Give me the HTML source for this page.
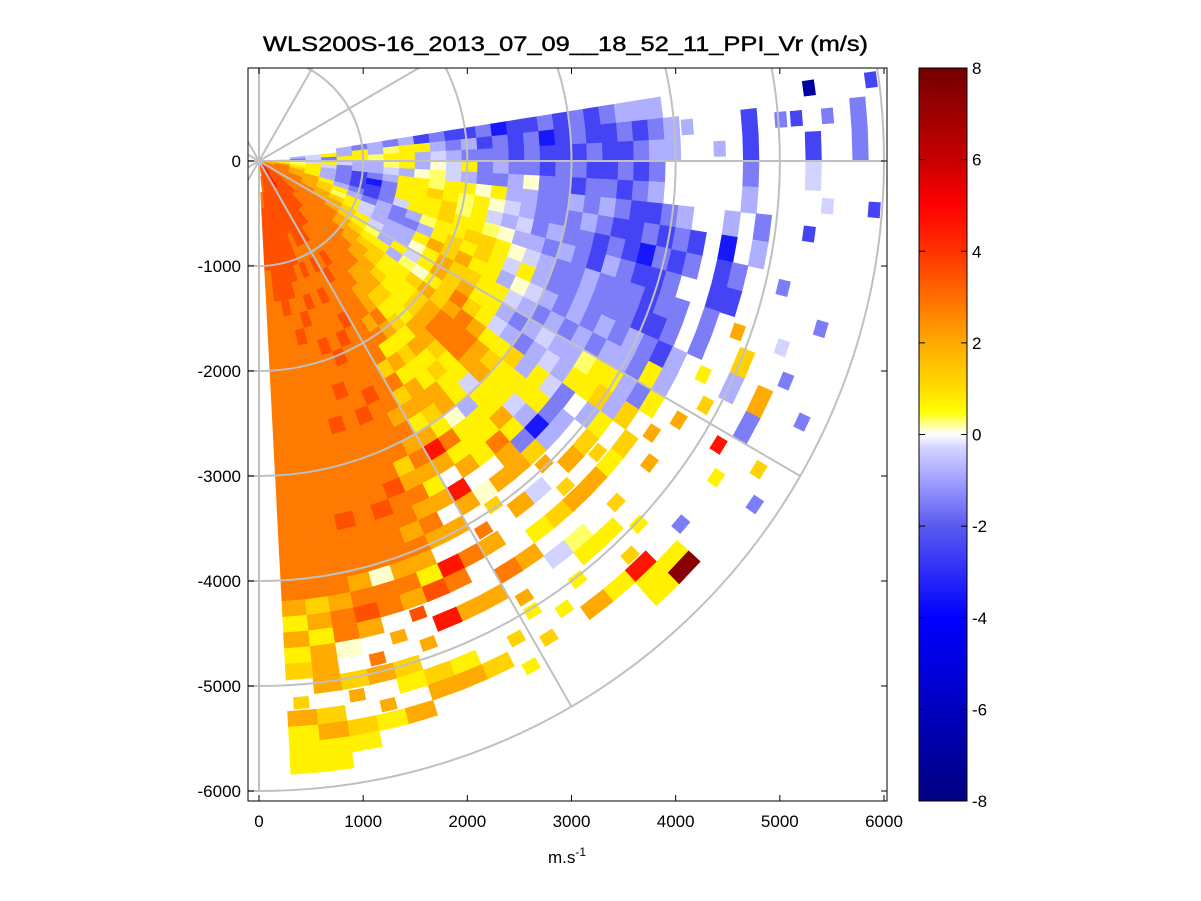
<!DOCTYPE html>
<html><head><meta charset="utf-8">
<style>
html,body{margin:0;padding:0;background:#fff;overflow:hidden;width:1201px;height:901px;}
svg{display:block;font-family:"Liberation Sans",Arial,sans-serif;}
</style></head>
<body>
<svg id="chart" width="1201" height="901" viewBox="0 0 1201 901">
<defs>
<clipPath id="plotclip"><rect x="248" y="68" width="639" height="733"/></clipPath>
<linearGradient id="cbgrad" x1="0" y1="1" x2="0" y2="0">
<stop offset="0" stop-color="rgb(0,0,128)"/>
<stop offset="0.25" stop-color="rgb(0,0,255)"/>
<stop offset="0.375" stop-color="rgb(90,90,240)"/>
<stop offset="0.4375" stop-color="rgb(160,160,255)"/>
<stop offset="0.484" stop-color="rgb(215,215,255)"/>
<stop offset="0.5" stop-color="rgb(255,255,255)"/>
<stop offset="0.516" stop-color="rgb(255,255,130)"/>
<stop offset="0.531" stop-color="rgb(255,255,0)"/>
<stop offset="0.5625" stop-color="rgb(255,220,0)"/>
<stop offset="0.625" stop-color="rgb(255,170,0)"/>
<stop offset="0.75" stop-color="rgb(255,50,0)"/>
<stop offset="0.8125" stop-color="rgb(255,0,0)"/>
<stop offset="0.875" stop-color="rgb(200,0,0)"/>
<stop offset="1" stop-color="rgb(115,0,0)"/>
</linearGradient>
</defs>
<rect x="248" y="68" width="639" height="733" fill="#fff"/>
<g id="cells" clip-path="url(#plotclip)"></g>
<g id="grid" clip-path="url(#plotclip)" stroke="#c0c0c0" stroke-width="2" fill="none"></g>
<rect x="248" y="68" width="639" height="733" fill="none" stroke="#000" stroke-width="1"/>
<g id="axes"></g>
<text x="263" y="51" textLength="605" lengthAdjust="spacingAndGlyphs" font-size="21" stroke="#000" stroke-width="0.4">WLS200S-16_2013_07_09__18_52_11_PPI_Vr (m/s)</text>
<text x="567" y="863" text-anchor="middle" font-size="17">m.s<tspan dy="-7" font-size="12">-1</tspan></text>
<rect x="919" y="68" width="48" height="733" fill="url(#cbgrad)" stroke="#000" stroke-width="1"/>
<g id="cbaxis"></g>
</svg>
<script>
const xTicks=[0,1000,2000,3000,4000,5000,6000];
const yTicks=[0,-1000,-2000,-3000,-4000,-5000,-6000];
const cbTicks=[-8,-6,-4,-2,0,2,4,6,8];
const rings=[1000,2000,3000,4000,5000,6000];
const spokeAngles=[0,30,60,90,120,150,180,210,240,270,300,330];
const spokeLen=6000;
const beamStart=9;      // degrees, top edge of first beam
const beamWidth=3;      // degrees
const gateLen=150;      // metres
const codeKeys=['w','e','l','m','b','B','N','p','y','g','o','O','r','R','D'];
const codeVals=[0.1,-0.3,-0.8,-1.5,-2.5,-3.5,-7,0.3,0.7,1.2,2,2.8,3.5,4.6,7.5];
const beams=[
".....lmlmlbmbbmBbbmbmbmlll.........N...b",
"..leylylpyylmlbmbmBbmbbmbmll...b.mb.m.m.",
".ememyypyylelmmmbmbbbmbbmll..l.b...b..m.",
".ypeyellpylweymlmmbmmbbmbm.....m...e....",
"yypyemllelwpelmmlwmmbmmbml.....l....e..b",
"ooyylmbmlyypyywyllmmlmlmbbml..l.m..b....",
"oOgylmbBmyygypywelmmmlmbbmbmb.B.l.......",
"oOoylmbbmyyygpyelemlmmbmbBmbm.bm..m.....",
"OOooylmbmeyygyypwllmlmblmbbm..bb.....m..",
"OOoogylmlmlpyyggywelmmlmmmbmm.m.o..e....",
"OOOogpyelmmlygygyeylmmlmmmbbm.m..g..m...",
"OOOoogyelllyogoyylwelmlmlmlmbl.y.l.o..m.",
"OOOOoogyellwyoggyyelmlmlmllmyl..g..m....",
"OOOOOogyplyeyogoyylmlellpyylmy.o..R..g..",
"rOOOOOogyylpwygOgyelmlelyyglg.o....y..m.",
"rrOOOOooggyygogoOoyyglyem.ly.g.o........",
"rrrOOOOoogyyygoOOOogyyyyml.ggy.....m....",
"rrrOOOOOoogyygoOOOooyyelBl.o.o.g.y..yD..",
"rrrrOOOOOoogyyoogyyeyyoymgo.go..y.gRyy..",
"RrrrOOOOOoogygyoygyylyyOoo.e.g.py..y....",
"RrrrrOOOOOooOoygyyoowyyy.o.o.y.e.y.o....",
"RRrrrOOrOOOOoOyoyoogyOyo.wg...o...y.....",
"RrrrrrOOrOOOOOOgOgoyoRo.Ro.Oo.O.oy.g....",
"rRrrrrOrOOOrOOOOOOoOoOoyo.o.O..o..g.y...",
"rrrrrrOOOrOOrOOOrOOOOgoOoOo.RO.o...g....",
"rrrrrOOrOOOOOrOOOrOOOOrOOoOoyr.R..yo....",
"rrrrrrrOOrOOrOOrOOOOOOOrOOOoOor.o.go....",
"rrrrrrrrOOrOOOOOOrOOOOOOOOOwOO.o.gy.o...",
"rrrrrrrrrOOrOOOOOOOOOOOrOOOoOro.Oo.oy...",
"OrrrrrrrrrOOOOOOOOOOOOOOOOOOoOOw.go.gy..",
".OrrrrrrrOOOOOOOOOOOOOOOOOOOgoyooo.goyy.",
"..OrrrrOOOOOOOOOOOOOOOOOOOOOoyoyg.goyyy."
];
const NS='http://www.w3.org/2000/svg';
const X0=259,Y0=161,SX=625/6000,SY=630/6000;
function px(x){return X0+x*SX;}
function py(y){return Y0-y*SY;}
const cmapV=[-8,-4,-2,-1,-0.25,0,0.25,0.5,1,2,4,5,6,8];
const cmapC=[[0,0,128],[0,0,255],[90,90,240],[160,160,255],[215,215,255],[255,255,255],[255,255,130],[255,255,0],[255,220,0],[255,170,0],[255,50,0],[255,0,0],[200,0,0],[115,0,0]];
function color(v){
  if(v<=cmapV[0])return 'rgb(0,0,128)';
  for(let i=1;i<cmapV.length;i++){
    if(v<=cmapV[i]){const t=(v-cmapV[i-1])/(cmapV[i]-cmapV[i-1]);
      const a=cmapC[i-1],b=cmapC[i];
      return 'rgb('+a.map((c,k)=>Math.round(c+(b[k]-c)*t)).join(',')+')';}
  }
  return 'rgb(115,0,0)';
}
function pt(r,deg){const a=deg*Math.PI/180;return [px(r*Math.cos(a)),py(r*Math.sin(a))];}
function has(bi,gi){return bi>=0&&bi<beams.length&&codeKeys.indexOf(beams[bi][gi])>=0;}
const cells=document.getElementById('cells');
beams.forEach((row,bi)=>{
  const mid=beamStart-bi*beamWidth-beamWidth/2;
  for(let gi=0;gi<row.length;gi++){
    const k=codeKeys.indexOf(row[gi]);
    if(k<0)continue;
    const v=codeVals[k];
    let r1=gi*gateLen,r2=(gi+1)*gateLen;
    let half=beamWidth/2;
    const isolated=!has(bi-1,gi)&&!has(bi+1,gi);
    if(isolated){
      const rpx=(r1+r2)/2*SX;
      half=Math.min(half,7.5/rpx*180/Math.PI);
      const rc=(r1+r2)/2; r1=rc-55; r2=rc+55;
    }
    const a1=mid+half,a2=mid-half;
    const p=[pt(r1,a1),pt(r2,a1),pt(r2,a2),pt(r1,a2)];
    const el=document.createElementNS(NS,'polygon');
    el.setAttribute('points',p.map(q=>q[0].toFixed(1)+','+q[1].toFixed(1)).join(' '));
    el.setAttribute('fill',color(v));
    el.setAttribute('stroke',color(v));
    el.setAttribute('stroke-width','0.6');
    
    
    cells.appendChild(el);
  }
});
const grid=document.getElementById('grid');
rings.forEach(r=>{
  const e=document.createElementNS(NS,'ellipse');
  e.setAttribute('cx',X0);e.setAttribute('cy',Y0);
  e.setAttribute('rx',r*SX);e.setAttribute('ry',r*SY);
  
  
  grid.appendChild(e);
});
spokeAngles.forEach(d=>{
  const p1=pt(spokeLen,d);
  const l=document.createElementNS(NS,'line');
  l.setAttribute('x1',X0);l.setAttribute('y1',Y0);
  l.setAttribute('x2',p1[0]);l.setAttribute('y2',p1[1]);
  
  
  grid.appendChild(l);
});
const axes=document.getElementById('axes');
function mk(tag,attrs,txt){const e=document.createElementNS(NS,tag);for(const k in attrs)e.setAttribute(k,attrs[k]);if(txt!==undefined)e.textContent=txt;return e;}
xTicks.forEach(t=>{
  const x=px(t);
  const a=mk('line',{x1:x,y1:801,x2:x,y2:795,stroke:'#000'});
  
  
  axes.appendChild(a);
  const b=mk('line',{x1:x,y1:68,x2:x,y2:74,stroke:'#000'});
  
  
  axes.appendChild(b);
  const tx=mk('text',{x:x,y:827,'text-anchor':'middle','font-size':17},String(t));
  
  
  axes.appendChild(tx);
});
yTicks.forEach(t=>{
  const y=py(t);
  const a=mk('line',{x1:248,y1:y,x2:254,y2:y,stroke:'#000'});
  
  
  axes.appendChild(a);
  const b=mk('line',{x1:887,y1:y,x2:881,y2:y,stroke:'#000'});
  
  
  axes.appendChild(b);
  const tx=mk('text',{x:241,y:y+6,'text-anchor':'end','font-size':17},String(t));
  
  
  axes.appendChild(tx);
});
const cb=document.getElementById('cbaxis');
cbTicks.forEach(t=>{
  const y=801-(t+8)/16*733;
  const a=mk('line',{x1:961,y1:y,x2:967,y2:y,stroke:'#000'});
  
  
  cb.appendChild(a);
  const b=mk('line',{x1:919,y1:y,x2:925,y2:y,stroke:'#000'});
  
  
  cb.appendChild(b);
  const tx=mk('text',{x:972,y:y+6,'text-anchor':'start','font-size':17},String(t));
  
  
  cb.appendChild(tx);
});
</script>
</body></html>
